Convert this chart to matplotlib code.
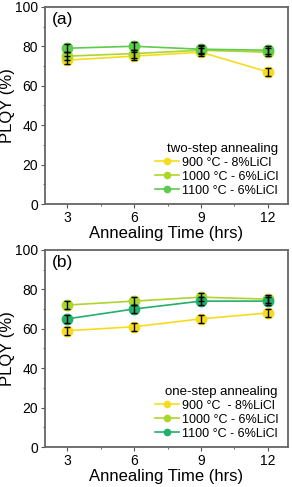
import numpy as np
import matplotlib.pyplot as plt
from matplotlib.ticker import MultipleLocator

plt.rcParams['font.family'] = ['Liberation Sans', 'DejaVu Sans']

times = [3, 6, 9, 12]

# (a) two-step annealing
a_900 = [73, 75, 77, 67]
a_1000 = [75, 76.3, 78, 77]
a_1100 = [79, 80, 78.5, 78]
a_err = [2, 2, 2, 2]

# (b) one-step annealing
b_900 = [59, 61, 65, 68]
b_1000 = [72, 74, 76, 75]
b_1100 = [65, 70, 74, 74]
b_err = [2, 2, 2, 2]

labels_a = ["900 °C - 8%LiCl", "1000 °C - 6%LiCl", "1100 °C - 6%LiCl"]
labels_b = ["900 °C  - 8%LiCl", "1000 °C - 6%LiCl", "1100 °C - 6%LiCl"]

c900 = "#F7DC1E"
c1000 = "#AED52C"
c1100a = "#5DCB4B"
c1100b = "#22B06B"

fig = plt.figure(figsize=(2.92, 4.87), dpi=100)
ax1 = fig.add_axes([0.154, 0.581, 0.832, 0.405])
ax2 = fig.add_axes([0.154, 0.082, 0.832, 0.405])


def draw(ax, series, colors, labels, err, title, tag):
    for y, c, lab in zip(series, colors, labels):
        ax.plot(times, y, '-o', color=c, lw=1.2, ms=7.5, label=lab, zorder=2)
        ax.errorbar(times, y, yerr=err, fmt='none', ecolor='black',
                    elinewidth=1, capsize=2, capthick=1, zorder=3)
    ax.set_xlim(2, 12.9)
    ax.set_ylim(0, 100)
    ax.xaxis.set_major_locator(MultipleLocator(3))
    ax.xaxis.set_minor_locator(MultipleLocator(1.5))
    ax.yaxis.set_major_locator(MultipleLocator(20))
    ax.yaxis.set_minor_locator(MultipleLocator(10))
    ax.tick_params(which='both', direction='out', labelsize=10,
                   color='#555555', pad=2)
    ax.tick_params(which='major', length=3)
    ax.tick_params(which='minor', length=1.5)
    for s in ax.spines.values():
        s.set_color('#666666')
        s.set_linewidth(1.3)
    ax.set_xlabel("Annealing Time (hrs)", fontsize=12, labelpad=1)
    ax.set_ylabel("PLQY (%)", fontsize=12)
    ax.yaxis.set_label_coords(-0.125, 0.5)
    ax.text(0.03, 0.975, tag, transform=ax.transAxes, fontsize=12.5,
            ha='left', va='top')
    ax.legend(title=title, loc='lower right', frameon=False,
              fontsize=9, title_fontsize=9.5, handlelength=1.9,
              markerscale=0.6, borderaxespad=0.2, labelspacing=0.15,
              handletextpad=0.2, alignment='right',
              bbox_to_anchor=(0.99, 0.0))


draw(ax1, [a_900, a_1000, a_1100], [c900, c1000, c1100a], labels_a, a_err,
     "two-step annealing", "(a)")
draw(ax2, [b_900, b_1000, b_1100], [c900, c1000, c1100b], labels_b, b_err,
     "one-step annealing", "(b)")

fig.savefig("out.png", dpi=100)
